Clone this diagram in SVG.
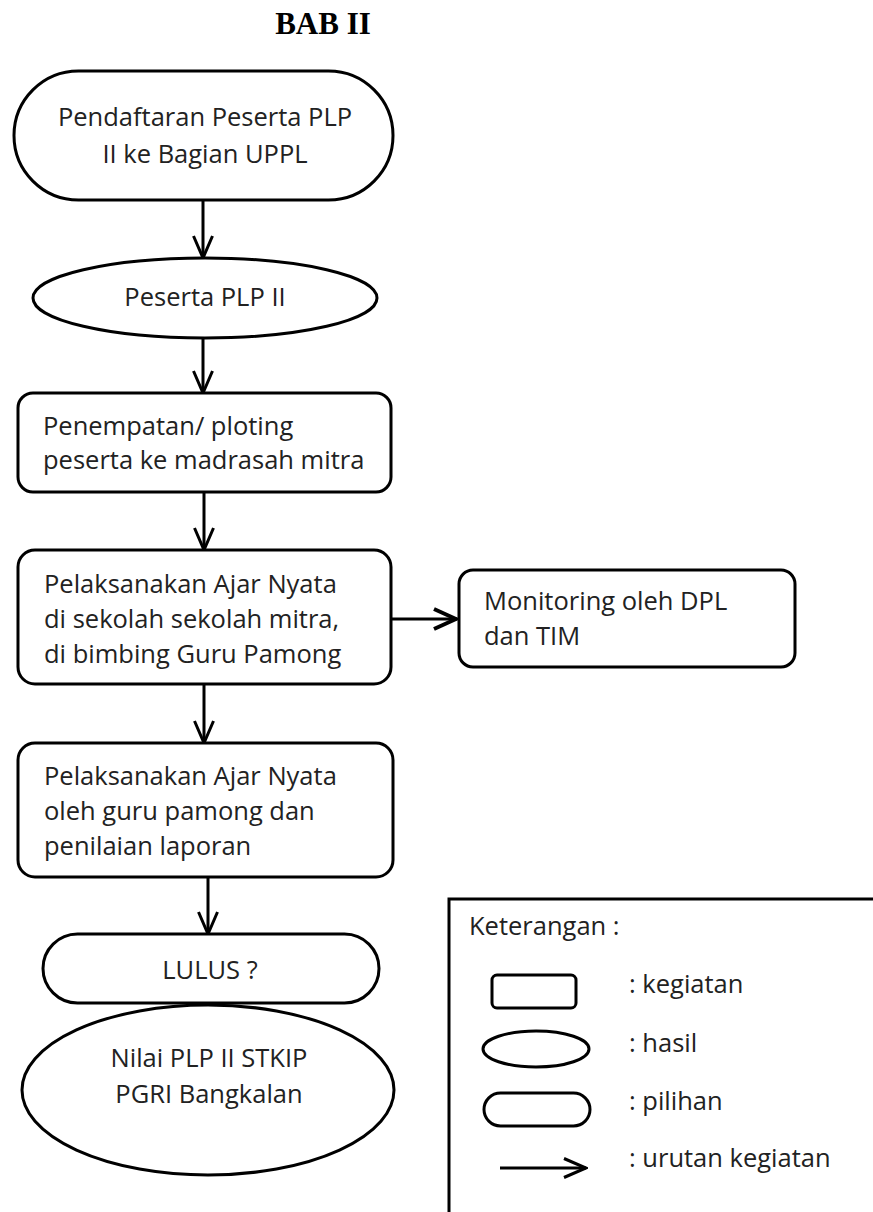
<svg xmlns="http://www.w3.org/2000/svg" width="873" height="1212" viewBox="0 0 873 1212">
<defs>
<style>
.n{fill:#fff;stroke:#000;stroke-width:3}
.t{font-family:"Open Sans","DejaVu Sans",sans-serif;font-size:25.5px;fill:#222}
.c{text-anchor:middle}
.e{stroke:#000;stroke-width:3;fill:none}
</style>
<marker id="v" viewBox="0 0 26 22" refX="24" refY="11" markerWidth="26" markerHeight="22" markerUnits="userSpaceOnUse" orient="auto">
<path d="M2,1.5 L24,11 L2,20.5" fill="none" stroke="#000" stroke-width="3"/>
</marker>
<marker id="vb" viewBox="0 0 28 24" refX="26" refY="12" markerWidth="28" markerHeight="24" markerUnits="userSpaceOnUse" orient="auto">
<path d="M3,2 L25,12 L3,22" fill="none" stroke="#000" stroke-width="4"/>
</marker>
</defs>
<rect width="873" height="1212" fill="#fff"/>
<text x="323" y="34" font-family="Liberation Serif,serif" font-weight="bold" font-size="31" text-anchor="middle" fill="#000">BAB II</text>

<g id="connectors">
<line class="e" x1="203" y1="200" x2="203" y2="258" marker-end="url(#v)"/>
<line class="e" x1="203" y1="338" x2="203" y2="393" marker-end="url(#v)"/>
<line class="e" x1="204" y1="492" x2="204" y2="550" marker-end="url(#v)"/>
<line class="e" x1="391" y1="619" x2="457" y2="619" stroke-width="5" marker-end="url(#vb)"/>
<line class="e" x1="204" y1="684" x2="204" y2="743" marker-end="url(#v)"/>
<line class="e" x1="208" y1="877" x2="208" y2="934" marker-end="url(#v)"/>
</g>

<g id="n1">
<rect class="n" x="14" y="71" width="379" height="129" rx="64.5"/>
<text class="t c" x="205" y="126">Pendaftaran Peserta PLP</text>
<text class="t c" x="205" y="163">II ke Bagian UPPL</text>
</g>
<g id="n2">
<ellipse class="n" cx="205" cy="298" rx="172" ry="40"/>
<text class="t c" x="205" y="306">Peserta PLP II</text>
</g>
<g id="n3">
<rect class="n" x="18" y="393" width="373" height="99" rx="15"/>
<text class="t" x="43" y="435">Penempatan/ ploting</text>
<text class="t" x="43" y="469">peserta ke madrasah mitra</text>
</g>
<g id="n4">
<rect class="n" x="18" y="550" width="373" height="134" rx="17"/>
<text class="t" x="44" y="593">Pelaksanakan Ajar Nyata</text>
<text class="t" x="44" y="628">di sekolah sekolah mitra,</text>
<text class="t" x="44" y="663">di bimbing Guru Pamong</text>
</g>
<g id="n5">
<rect class="n" x="459" y="570" width="336" height="97" rx="14"/>
<text class="t" x="484" y="610">Monitoring oleh DPL</text>
<text class="t" x="484" y="645">dan TIM</text>
</g>
<g id="n6">
<rect class="n" x="18" y="743" width="375" height="134" rx="17"/>
<text class="t" x="44" y="785">Pelaksanakan Ajar Nyata</text>
<text class="t" x="44" y="820">oleh guru pamong dan</text>
<text class="t" x="44" y="855">penilaian laporan</text>
</g>
<g id="n7">
<rect class="n" x="43" y="934" width="336" height="69" rx="34.5"/>
<text class="t c" x="210" y="979">LULUS ?</text>
</g>
<g id="n8">
<ellipse class="n" cx="208" cy="1090" rx="186" ry="85"/>
<text class="t c" x="209" y="1067">Nilai PLP II STKIP</text>
<text class="t c" x="209" y="1103">PGRI Bangkalan</text>
</g>

<g id="legend">
<rect x="449" y="899" width="440" height="340" fill="none" stroke="#000" stroke-width="3"/>
<text class="t" x="469" y="935">Keterangan :</text>
<rect class="n" x="492" y="975" width="84" height="33" rx="5"/>
<text class="t" x="629" y="993">: kegiatan</text>
<ellipse class="n" cx="536" cy="1049" rx="53" ry="18"/>
<text class="t" x="629" y="1052">: hasil</text>
<rect class="n" x="484" y="1093" width="106" height="33" rx="16.5"/>
<text class="t" x="629" y="1110">: pilihan</text>
<line class="e" x1="500" y1="1168" x2="586" y2="1168" marker-end="url(#v)"/>
<text class="t" x="629" y="1167">: urutan kegiatan</text>
</g>
</svg>
